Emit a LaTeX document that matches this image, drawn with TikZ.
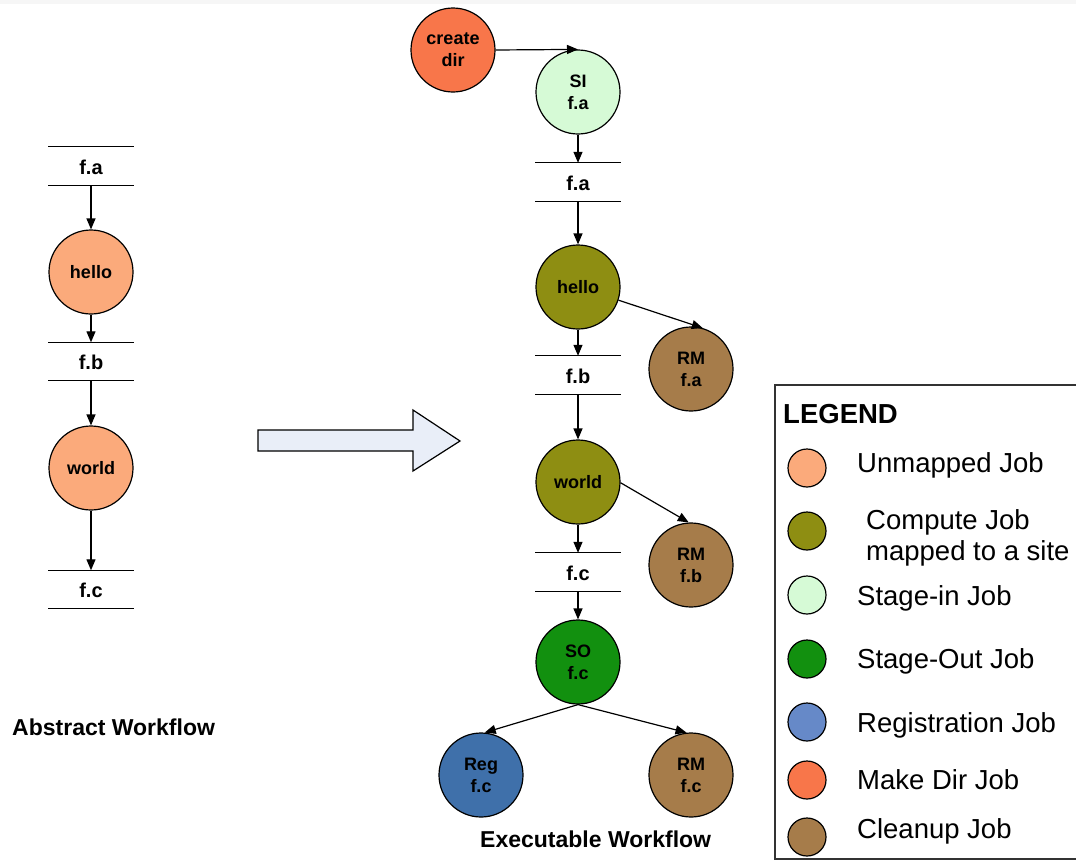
\documentclass[tikz,border=0pt]{standalone}
\usepackage{fontspec}
\setmainfont{Liberation Sans}
\usetikzlibrary{arrows.meta}

\definecolor{unmapped}{HTML}{FBAA7B}
\definecolor{compute}{HTML}{8E8E12}
\definecolor{stagein}{HTML}{D6FAD6}
\definecolor{stageout}{HTML}{12900F}
\definecolor{regnode}{HTML}{3F70AA}
\definecolor{regkey}{HTML}{6689C8}
\definecolor{mkdir}{HTML}{F8764A}
\definecolor{cleanup}{HTML}{A67C4A}
\definecolor{bigarrow}{HTML}{E9EEF8}
\definecolor{topband}{HTML}{F6F6F6}
\definecolor{frame}{HTML}{333333}

\begin{document}
\begin{tikzpicture}[x=1pt,y=-1pt,
  job/.style={circle,draw=black,line width=1.2pt,minimum size=84pt,inner sep=0pt,
    align=center,font=\fontsize{18}{22}\selectfont\bfseries},
  datafile/.style={minimum width=85pt,minimum height=38pt,inner sep=0pt,
    text height=16.6pt,text depth=0pt,
    font=\fontsize{20}{24}\selectfont\bfseries},
  flow/.style={line width=1.2pt,-{Triangle[length=11pt,width=9pt]}},
  title/.style={anchor=base west,inner sep=0pt,font=\fontsize{23}{27}\selectfont\bfseries},
  key/.style={circle,draw=black,line width=1.2pt,minimum size=38pt,inner sep=0pt},
  keytext/.style={anchor=base west,align=left,inner sep=0pt,font=\fontsize{27.5}{31}\selectfont}
]
\useasboundingbox (0,0) rectangle (1076,865);
\fill[white] (0,0) rectangle (1076,865);
\fill[topband] (0,0) rectangle (1076,4);

% ---- abstract workflow ----
\node[datafile] (afa) at (91,166) {f.a};
\node[job,fill=unmapped] (ahello) at (91,272) {hello};
\node[datafile] (afb) at (91,361.5) {f.b};
\node[job,fill=unmapped] (aworld) at (91,468) {world};
\node[datafile] (afc) at (91,589.5) {f.c};
\node[title] (atitle) at (12,735) {Abstract Workflow};

\draw[flow] (afa.south) -- (ahello.north);
\draw[flow] (ahello.south) -- (afb.north);
\draw[flow] (afb.south) -- (aworld.north);
\draw[flow] (aworld.south) -- (afc.north);

% ---- mapping arrow ----
\draw[line width=1.2pt,fill=bigarrow,line join=miter]
  (258,430) -- (413,430) -- (413,410) -- (460,441) -- (413,471) -- (413,451) -- (258,451) -- cycle;

% ---- executable workflow ----
\node[job,fill=mkdir] (cd) at (453,50) {create\\dir};
\node[job,fill=stagein] (si) at (578,92) {SI\\f.a};
\node[datafile] (efa) at (578,182) {f.a};
\node[job,fill=compute] (ehello) at (578,287) {hello};
\node[job,fill=cleanup] (rmfa) at (691,369) {RM\\f.a};
\node[datafile] (efb) at (578,375) {f.b};
\node[job,fill=compute] (eworld) at (578,482) {world};
\node[job,fill=cleanup] (rmfb) at (691,565) {RM\\f.b};
\node[datafile] (efc) at (578,572) {f.c};
\node[job,fill=stageout] (so) at (578,662) {SO\\f.c};
\node[job,fill=regnode] (reg) at (481,775) {Reg\\f.c};
\node[job,fill=cleanup] (rmfc) at (691,775) {RM\\f.c};
\node[title] (etitle) at (480,847) {Executable Workflow};

\draw[flow] (cd.east) -- (si.north);
\draw[flow] (si.south) -- (efa.north);
\draw[flow] (efa.south) -- (ehello.north);
\draw[flow] (ehello.south) -- (efb.north);
\draw[flow] (ehello.-18) -- (rmfa.74);
\draw[flow] (efb.south) -- (eworld.north);
\draw[flow] (eworld.-1) -- (rmfb.93);
\draw[flow] (eworld.south) -- (efc.north);
\draw[flow] (efc.south) -- (so.north);
\draw[flow] (so.south) -- (reg.85);
\draw[flow] (so.south) -- (rmfc.96);

% file bars above and below each data file
\foreach \f in {afa,afb,afc,efa,efb,efc}
  \draw[line width=1.2pt] (\f.north west) -- (\f.north east)
                          (\f.south west) -- (\f.south east);

% ---- legend ----
\draw[line width=1.2pt,draw=frame] (1076,385) -| (775,859) -- (1076,859);
\node[anchor=base west,inner sep=0pt,font=\fontsize{27.5}{32}\selectfont\bfseries] (lgtitle) at (783,423) {LEGEND};

\node[key,fill=unmapped] (k1) at (807,468) {};
\node[key,fill=compute]  (k2) at (807,531) {};
\node[key,fill=stagein]  (k3) at (807,595) {};
\node[key,fill=stageout] (k4) at (807,659) {};
\node[key,fill=regkey]   (k5) at (807,722) {};
\node[key,fill=mkdir]    (k6) at (807,780) {};
\node[key,fill=cleanup]  (k7) at (807,837) {};

\node[keytext] (t1) at (857,472) {Unmapped Job};
\node[keytext] (t2) at (866,560) {Compute Job\\mapped to a site};
\node[keytext] (t3) at (857,605) {Stage-in Job};
\node[keytext] (t4) at (857,668) {Stage-Out Job};
\node[keytext] (t5) at (857,732) {Registration Job};
\node[keytext] (t6) at (857,789) {Make Dir Job};
\node[keytext] (t7) at (857,838) {Cleanup Job};
\end{tikzpicture}
\end{document}
